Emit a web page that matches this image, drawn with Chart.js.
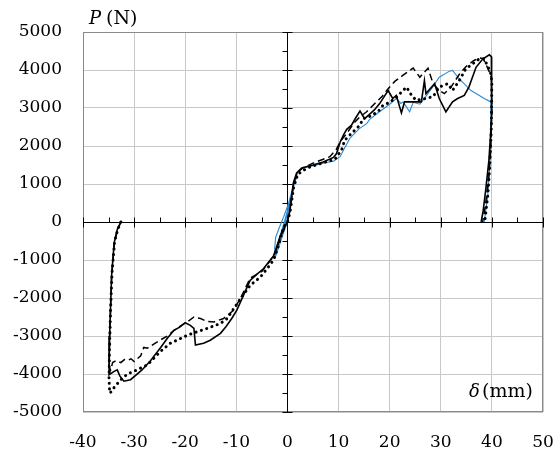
<!DOCTYPE html>
<html>
<head>
<meta charset="utf-8">
<script src="https://cdn.jsdelivr.net/npm/chart.js@4.4.0/dist/chart.umd.min.js"></script>
<style>
  body { margin: 0; background: #fff; }
</style>
</head>
<body>
<canvas id="c" width="555" height="455"></canvas>
<script>
// displacement (mm) / load (N), one pair of arrays per specimen
var solidX = [-32.6,-33.3,-33.9,-34.4,-34.6,-34.8,-34.9,-34.9,-33.9,-33.3,-32.8,-32.0,-30.7,-28.5,-26.8,-24.8,-23.5,-22.2,-21.0,-20.0,-19.0,-18.3,-18.0,-16.4,-15.1,-13.1,-12.0,-10.9,-9.9,-8.3,-7.3,-6,-4.7,-2.7,-1.4,-0.5,
  0,0.5,1.15,1.8,2.8,5,7,9,9.6,10.3,11,11.6,12.5,13.4,14.2,15.1,16.1,17,18,19.7,20.6,21.3,22.3,22.9,24.5,26.2,26.8,27.1,28.8,29.7,31.0,32.3,33.3,34.6,35.5,36.9,38.2,39.5,39.9,40,39.9,39.7,39.4,38.8,38.3,37.9];
var solidY = [0,-200,-550,-1400,-2200,-3000,-3700,-4020,-3930,-3890,-4050,-4190,-4150,-3900,-3650,-3300,-3060,-2850,-2760,-2650,-2720,-2800,-3240,-3190,-3110,-2930,-2750,-2540,-2320,-1840,-1540,-1380,-1230,-890,-365,-100,
  0,330,1030,1290,1420,1500,1580,1700,1800,2100,2300,2440,2540,2750,2920,2720,2840,2950,3110,3460,3250,3330,2870,3160,3160,3160,3720,3380,3640,3250,2900,3160,3250,3330,3550,4070,4290,4400,4350,3500,2800,2200,1600,850,300,0];

var dashX = [-32.6,-33.3,-33.9,-34.4,-34.6,-34.8,-34.9,-34.6,-34.2,-33.6,-32.6,-31.9,-31.3,-30.6,-30.0,-28.7,-28.1,-27.4,-26.0,-24.8,-23.5,-22.2,-20.5,-19.6,-18.3,-17.0,-15.7,-14.4,-12.5,-10.5,-8.9,-7.3,-5,-2.7,-1.2,
  0,0.5,1.2,1.9,3,5,7,8.3,9.5,10.5,11.6,13,14.2,15.5,16.8,18.5,19.7,21,22.5,23.5,24.6,25.9,27.5,28.5,29.7,30.7,32,33.7,35,36.5,37.5,38.3,38.8,39.5,39.9,40,39.8,39.4,38.8,38.2];
var dashY = [0,-220,-600,-1450,-2300,-3100,-3800,-3900,-3700,-3650,-3700,-3620,-3640,-3600,-3670,-3520,-3300,-3320,-3200,-3100,-3000,-2850,-2700,-2630,-2500,-2540,-2620,-2630,-2540,-2320,-1930,-1480,-1300,-900,-350,
  0,300,1000,1300,1420,1550,1650,1720,1900,2150,2330,2600,2770,2900,3080,3300,3510,3700,3850,3950,4050,3810,4050,3640,3460,3380,3550,3900,4100,4250,4320,4300,4160,3950,3800,3000,2000,1200,500,0];

var dotX = [-32.6,-33.2,-33.8,-34.3,-34.6,-34.8,-34.9,-34.8,-34.3,-33.9,-32.6,-31.3,-29.4,-27.4,-24.8,-22.9,-21.6,-19.6,-17.7,-15.7,-13.1,-11.8,-10.5,-9.2,-7.3,-5.3,-4.0,-2.7,-1.7,-0.8,
  0,0.5,1.2,2,3,4.4,7,9.3,10.6,11.2,12.5,14.2,14.8,16.1,17.7,18.7,20,21.5,22.3,23.3,24.2,25.2,27,28.5,29.7,31.4,32.3,33.6,34.9,36.2,37.5,38.5,39,39.7,40,39.9,39.6,39.2,38.6];
var dotY = [0,-200,-500,-1300,-2300,-3300,-4100,-4500,-4450,-4350,-4150,-4000,-3890,-3760,-3400,-3190,-3110,-2980,-2890,-2800,-2670,-2540,-2280,-2020,-1670,-1450,-1230,-1000,-600,-150,
  0,250,900,1250,1350,1450,1560,1650,1900,2150,2330,2550,2720,2780,2900,3070,3150,3300,3420,3550,3350,3200,3250,3300,3550,3640,3460,3720,4030,4160,4290,4300,4150,3950,3700,2500,1500,700,0];

var blueX = [0,-0.8,-1.6,-2.3,-2.5,-2.3,-1.6,-0.7,0.2,0.8,1.4,1.0,0.4,-0.3,-1.0,-1.8,-2.5,-2.0,-1.3,-0.4,0.5,1.0,1.6,2.0,3,5,7,9,10.3,11,12.2,14,15.5,16.1,18,20,21.3,22.2,22.6,23.2,23.9,24.6,25.9,26.5,28.4,29.7,31.7,32.3,33.6,35.9,36.9,38.5,39.8,39.8,39.6,39.2,38.5];
var blueY = [0,-300,-620,-900,-700,-400,-150,150,480,780,1050,750,400,60,-250,-600,-950,-650,-300,100,550,850,1100,1300,1420,1480,1550,1600,1720,1900,2200,2450,2590,2700,2900,3100,3250,3120,3160,3050,2900,3150,3100,3200,3550,3810,3970,3990,3770,3460,3380,3250,3160,2500,1500,700,0];

var xTicks = [-40, -30, -20, -10, 0, 10, 20, 30, 40, 50];
var yTicks = [-5000, -4000, -3000, -2000, -1000, 0, 1000, 2000, 3000, 4000, 5000];

function pts(xs, ys) {
  return xs.map(function (x, i) { return { x: x, y: ys[i] }; });
}

var serif = '"DejaVu Serif", "Liberation Serif", serif';

// frame, axes through zero with ticks, and the axis titles
var decor = {
  id: 'decor',
  beforeDatasetsDraw: function (chart) {
    var ctx = chart.ctx, a = chart.chartArea;
    var sx = chart.scales.x, sy = chart.scales.y;
    ctx.save();
    ctx.strokeStyle = '#8a8a8a';
    ctx.lineWidth = 1;
    ctx.strokeRect(a.left + 0.5, a.top + 0.5, a.right - a.left - 1, a.bottom - a.top - 1);

    var x0 = Math.round(sx.getPixelForValue(0)) + 0.5;
    var y0 = Math.round(sy.getPixelForValue(0)) + 0.5;
    ctx.strokeStyle = '#000';
    ctx.beginPath();
    ctx.moveTo(a.left, y0); ctx.lineTo(a.right, y0);
    ctx.moveTo(x0, a.top); ctx.lineTo(x0, a.bottom);
    for (var v = -40; v <= 50; v += 5) {
      var px = Math.round(sx.getPixelForValue(v)) + 0.5;
      if (v % 10 === 0) { ctx.moveTo(px, y0 - 5); ctx.lineTo(px, y0 + 5); }
      else { ctx.moveTo(px, y0 - 5); ctx.lineTo(px, y0); }
    }
    for (var w = -5000; w <= 5000; w += 500) {
      var py = Math.round(sy.getPixelForValue(w)) + 0.5;
      if (w % 1000 === 0) { ctx.moveTo(x0 - 5, py); ctx.lineTo(x0 + 5, py); }
      else { ctx.moveTo(x0 - 5, py); ctx.lineTo(x0, py); }
    }
    ctx.stroke();
    ctx.restore();
  },
  afterDraw: function (chart) {
    var ctx = chart.ctx;
    ctx.save();
    ctx.fillStyle = '#000';
    ctx.textBaseline = 'alphabetic';
    ctx.font = 'italic 18px ' + serif;
    ctx.fillText('P', 89, 24);
    ctx.font = '19px ' + serif;
    ctx.fillText('(N)', 106, 24);

    ctx.font = 'italic 18px ' + serif;
    ctx.fillText('\u03b4', 469, 397);
    ctx.font = '19px ' + serif;
    ctx.fillText('(mm)', 482, 397);
    ctx.restore();
  }
};

function plain(v) { return String(v); }

new Chart(document.getElementById('c'), {
  type: 'line',
  data: {
    datasets: [
      { data: pts(solidX, solidY), borderColor: '#000', borderWidth: 1.6 },
      { data: pts(dashX, dashY), borderColor: '#000', borderWidth: 1.5, borderDash: [7, 4] },
      { data: pts(dotX, dotY), borderColor: '#000', borderWidth: 3, borderDash: [0.1, 5.5], borderCapStyle: 'round' },
      { data: pts(blueX, blueY), borderColor: '#2b8ad6', borderWidth: 1.1 }
    ]
  },
  options: {
    responsive: false,
    animation: false,
    events: [],
    elements: { point: { radius: 0 }, line: { tension: 0, fill: false } },
    layout: { padding: { top: 32, right: 12, left: 0, bottom: 0 } },
    plugins: { legend: { display: false }, tooltip: { enabled: false }, title: { display: false } },
    scales: {
      x: {
        type: 'linear', min: -40, max: 50,
        afterBuildTicks: function (s) { s.ticks = xTicks.map(function (v) { return { value: v }; }); },
        afterFit: function (s) { s.height = 43; s.paddingRight = 0; s.paddingLeft = 0; },
        grid: { color: '#c8c8c8', drawTicks: true, tickLength: 19, tickColor: 'rgba(0,0,0,0)' },
        border: { display: false },
        ticks: { color: '#000', padding: 1, maxRotation: 0, callback: plain, font: { family: serif, size: 17 } }
      },
      y: {
        type: 'linear', min: -5000, max: 5000,
        afterBuildTicks: function (s) { s.ticks = yTicks.map(function (v) { return { value: v }; }); },
        afterFit: function (s) { s.width = 83; s.paddingTop = 0; s.paddingBottom = 0; },
        grid: { color: '#c8c8c8', drawTicks: false },
        border: { display: false },
        ticks: { color: '#000', padding: 21, callback: plain, font: { family: serif, size: 17 } }
      }
    }
  },
  plugins: [decor]
});
</script>
</body>
</html>
